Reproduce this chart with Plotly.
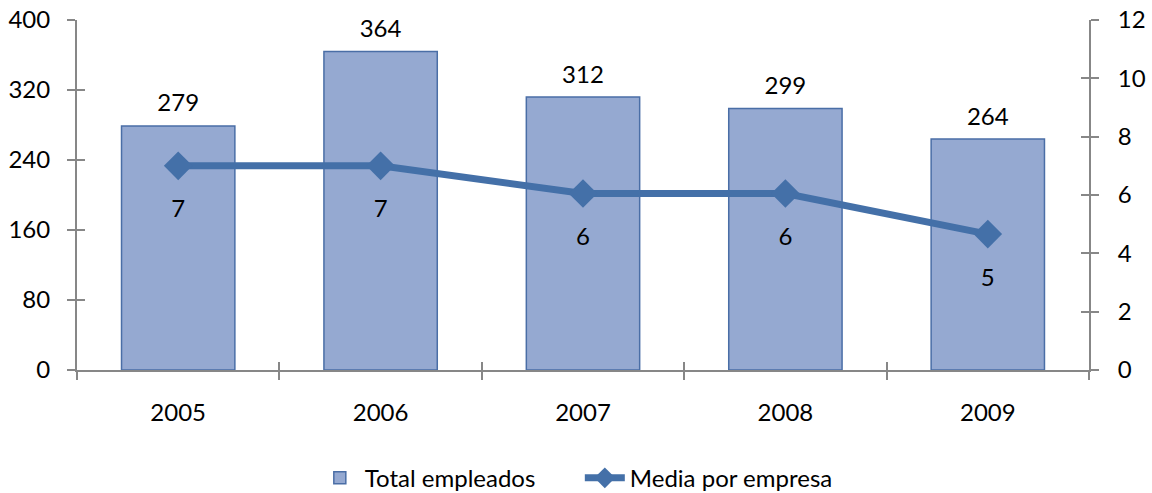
import plotly.graph_objects as go

years = ["2005", "2006", "2007", "2008", "2009"]
total_empleados = [279, 364, 312, 299, 264]
media_por_empresa = [7.0, 7.0, 6.05, 6.05, 4.66]
media_labels = ["7", "7", "6", "6", "5"]
left_ticks = [0, 80, 160, 240, 320, 400]
right_ticks = [0, 2, 4, 6, 8, 10, 12]

FONT = "Lato"
FS = 24
AXIS_COL = "#878787"

fig = go.Figure()
fig.add_trace(go.Bar(
    x=years, y=total_empleados, name="Total empleados",
    marker=dict(color="#95A9D1", line=dict(color="#4A6EA6", width=1.5)),
    width=0.56,
))
fig.add_trace(go.Scatter(
    x=years, y=media_por_empresa, name="Media por empresa", yaxis="y2",
    mode="lines+markers",
    line=dict(color="#4470A8", width=7),
    marker=dict(symbol="diamond", size=22, color="#4470A8"),
    cliponaxis=False,
))
# value labels (invisible markers set the gap between point and text)
fig.add_trace(go.Scatter(
    x=years, y=total_empleados, mode="markers+text",
    marker=dict(size=12, opacity=0),
    text=[str(v) for v in total_empleados], textposition="top center",
    textfont=dict(size=FS, family=FONT, color="#000000"),
    showlegend=False, hoverinfo="skip", cliponaxis=False,
))
fig.add_trace(go.Scatter(
    x=years, y=media_por_empresa, yaxis="y2", mode="markers+text",
    marker=dict(size=52, opacity=0),
    text=media_labels, textposition="bottom center",
    textfont=dict(size=FS, family=FONT, color="#000000"),
    showlegend=False, hoverinfo="skip", cliponaxis=False,
))
# invisible traces for the inner halves of the cross-style tick marks
fig.add_trace(go.Scatter(x=years, y=[None] * 5, xaxis="x2", yaxis="y3",
                         showlegend=False, hoverinfo="skip"))
fig.add_trace(go.Scatter(x=years, y=[None] * 5, xaxis="x2", yaxis="y4",
                         showlegend=False, hoverinfo="skip"))

tick_common = dict(ticklen=8, tickwidth=2, tickcolor=AXIS_COL, showgrid=False,
                   automargin=False)

fig.update_layout(
    width=1152, height=493,
    margin=dict(l=77, r=63, t=20, b=123),
    plot_bgcolor="white", paper_bgcolor="white",
    font=dict(family=FONT, size=FS, color="#000000"),
    xaxis=dict(
        type="category", range=[-0.5, 4.5],
        showline=True, linecolor=AXIS_COL, linewidth=2,
        ticks="outside", tickson="boundaries", ticklabelstandoff=20,
        tickfont=dict(size=FS, family=FONT), **tick_common,
    ),
    xaxis2=dict(
        type="category", range=[-0.5, 4.5], overlaying="x",
        showline=False, showticklabels=False,
        ticks="inside", tickson="boundaries", **tick_common,
    ),
    yaxis=dict(
        range=[0, 400], tickvals=left_ticks,
        showline=True, linecolor=AXIS_COL, linewidth=2,
        ticks="outside", zeroline=False, ticklabelstandoff=12,
        tickfont=dict(size=FS, family=FONT), **tick_common,
    ),
    yaxis2=dict(
        range=[0, 12], tickvals=right_ticks, overlaying="y", side="right",
        showline=True, linecolor=AXIS_COL, linewidth=2,
        ticks="outside", zeroline=False, ticklabelstandoff=14,
        tickfont=dict(size=FS, family=FONT), **tick_common,
    ),
    yaxis3=dict(
        range=[0, 400], tickvals=left_ticks, overlaying="y", side="left",
        showline=False, showticklabels=False,
        ticks="inside", zeroline=False, **tick_common,
    ),
    yaxis4=dict(
        range=[0, 12], tickvals=right_ticks, overlaying="y", side="right",
        showline=False, showticklabels=False,
        ticks="inside", zeroline=False, **tick_common,
    ),
    legend=dict(
        orientation="h", x=0.235, xanchor="left",
        yref="container", y=0.03, yanchor="middle",
        font=dict(size=FS, family=FONT), itemwidth=40,
        traceorder="normal", entrywidth=210,
    ),
    showlegend=True,
)

fig.write_html("out.html", config={"displayModeBar": False},
               post_script="document.body.style.margin='0';")
